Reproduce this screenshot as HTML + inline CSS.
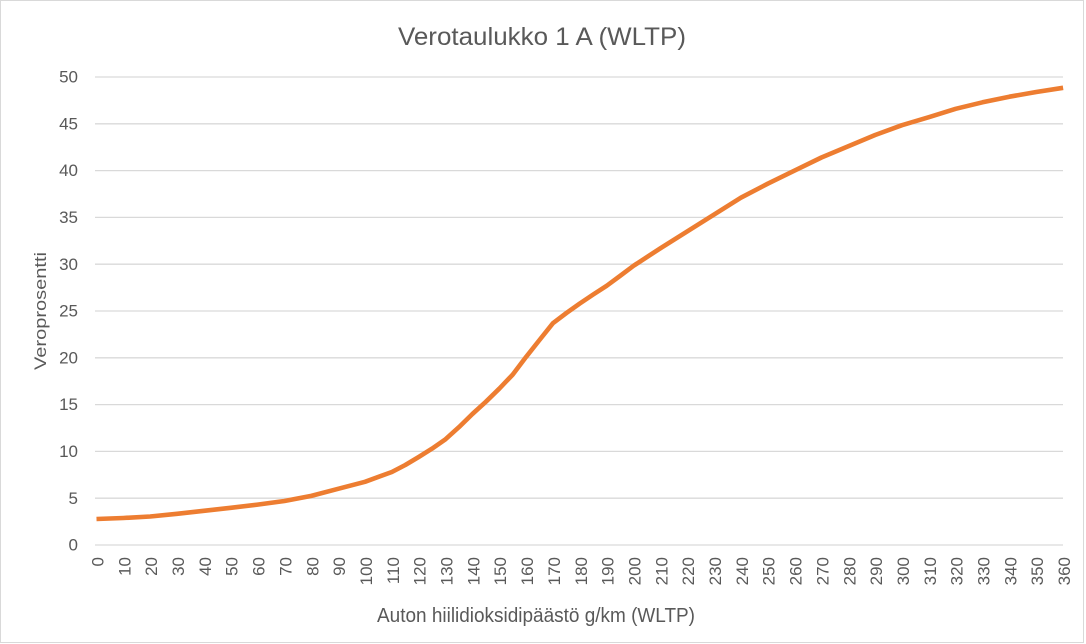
<!DOCTYPE html>
<html>
<head>
<meta charset="utf-8">
<style>
html,body{margin:0;padding:0;background:#fff;}
svg{display:block;}
text{font-family:"Liberation Sans",sans-serif;fill:#595959;}
</style>
</head>
<body>
<svg width="1086" height="644" viewBox="0 0 1086 644" xmlns="http://www.w3.org/2000/svg">
<rect x="0" y="0" width="1086" height="644" fill="#fff"/>
<rect x="0.5" y="0.5" width="1083" height="642" fill="none" stroke="#D9D9D9" stroke-width="1"/>

<!-- title -->
<text x="542" y="45" font-size="25" text-anchor="middle" textLength="288" lengthAdjust="spacingAndGlyphs">Verotaulukko 1 A (WLTP)</text>

<!-- gridlines -->
<g stroke="#D9D9D9" stroke-width="1.3">
<line x1="95" y1="545" x2="1063" y2="545"/>
<line x1="95" y1="498.2" x2="1063" y2="498.2"/>
<line x1="95" y1="451.4" x2="1063" y2="451.4"/>
<line x1="95" y1="404.6" x2="1063" y2="404.6"/>
<line x1="95" y1="357.8" x2="1063" y2="357.8"/>
<line x1="95" y1="311" x2="1063" y2="311"/>
<line x1="95" y1="264.2" x2="1063" y2="264.2"/>
<line x1="95" y1="217.4" x2="1063" y2="217.4"/>
<line x1="95" y1="170.6" x2="1063" y2="170.6"/>
<line x1="95" y1="123.8" x2="1063" y2="123.8"/>
<line x1="95" y1="77" x2="1063" y2="77"/>
</g>

<!-- y labels -->
<g font-size="17" text-anchor="end">
<text x="78" y="550.6">0</text>
<text x="78" y="503.8">5</text>
<text x="78" y="457">10</text>
<text x="78" y="410.2">15</text>
<text x="78" y="363.4">20</text>
<text x="78" y="316.6">25</text>
<text x="78" y="269.8">30</text>
<text x="78" y="223">35</text>
<text x="78" y="176.2">40</text>
<text x="78" y="129.4">45</text>
<text x="78" y="82.6">50</text>
</g>

<!-- y axis title -->
<text transform="translate(46,311) rotate(-90)" font-size="17" text-anchor="middle" textLength="118" lengthAdjust="spacingAndGlyphs">Veroprosentti</text>

<!-- x labels -->
<g font-size="17" text-anchor="end">
<text transform="translate(103.5,557) rotate(-90)">0</text>
<text transform="translate(130.3,557) rotate(-90)">10</text>
<text transform="translate(157.2,557) rotate(-90)">20</text>
<text transform="translate(184,557) rotate(-90)">30</text>
<text transform="translate(210.9,557) rotate(-90)">40</text>
<text transform="translate(237.7,557) rotate(-90)">50</text>
<text transform="translate(264.6,557) rotate(-90)">60</text>
<text transform="translate(291.4,557) rotate(-90)">70</text>
<text transform="translate(318.3,557) rotate(-90)">80</text>
<text transform="translate(345.1,557) rotate(-90)">90</text>
<text transform="translate(372,557) rotate(-90)">100</text>
<text transform="translate(398.8,557) rotate(-90)">110</text>
<text transform="translate(425.7,557) rotate(-90)">120</text>
<text transform="translate(452.5,557) rotate(-90)">130</text>
<text transform="translate(479.4,557) rotate(-90)">140</text>
<text transform="translate(506.2,557) rotate(-90)">150</text>
<text transform="translate(533.1,557) rotate(-90)">160</text>
<text transform="translate(559.9,557) rotate(-90)">170</text>
<text transform="translate(586.8,557) rotate(-90)">180</text>
<text transform="translate(613.6,557) rotate(-90)">190</text>
<text transform="translate(640.5,557) rotate(-90)">200</text>
<text transform="translate(667.3,557) rotate(-90)">210</text>
<text transform="translate(694.2,557) rotate(-90)">220</text>
<text transform="translate(721,557) rotate(-90)">230</text>
<text transform="translate(747.9,557) rotate(-90)">240</text>
<text transform="translate(774.7,557) rotate(-90)">250</text>
<text transform="translate(801.6,557) rotate(-90)">260</text>
<text transform="translate(828.4,557) rotate(-90)">270</text>
<text transform="translate(855.3,557) rotate(-90)">280</text>
<text transform="translate(882.1,557) rotate(-90)">290</text>
<text transform="translate(909,557) rotate(-90)">300</text>
<text transform="translate(935.8,557) rotate(-90)">310</text>
<text transform="translate(962.7,557) rotate(-90)">320</text>
<text transform="translate(989.5,557) rotate(-90)">330</text>
<text transform="translate(1016.4,557) rotate(-90)">340</text>
<text transform="translate(1043.2,557) rotate(-90)">350</text>
<text transform="translate(1070.1,557) rotate(-90)">360</text>
</g>

<!-- x axis title -->
<text x="536" y="622" font-size="20" text-anchor="middle" textLength="318" lengthAdjust="spacingAndGlyphs">Auton hiilidioksidipäästö g/km (WLTP)</text>

<!-- series -->
<polyline fill="none" stroke="#ED7D31" stroke-width="4.6" stroke-linejoin="round" stroke-linecap="butt"
points="96.5,519 123.35,518 150.2,516.5 177.05,513.8 203.9,510.8 230.75,507.8 257.6,504.6 284.45,501 311.3,495.9 338.15,488.8 365,481.8 391.85,472 405.3,465 418.7,457 432.1,448.6 445.55,439.2 459,427.1 472.4,414 485.8,401.8 499.25,388.7 512.7,374.6 526.1,356.9 539.5,340 552.95,323.2 566.4,313 579.8,303.5 593.2,294.5 606.65,285.8 620.1,275.9 633.5,265.8 660.35,248.3 687.2,231.4 714.05,214.6 740.9,197.7 767.75,183.7 794.6,170.6 821.45,157.5 848.3,146.3 875.15,135 902,125.2 928.85,117.2 955.7,108.8 982.55,102.3 1009.4,96.7 1036.25,92 1063.1,87.8"/>
</svg>
</body>
</html>
